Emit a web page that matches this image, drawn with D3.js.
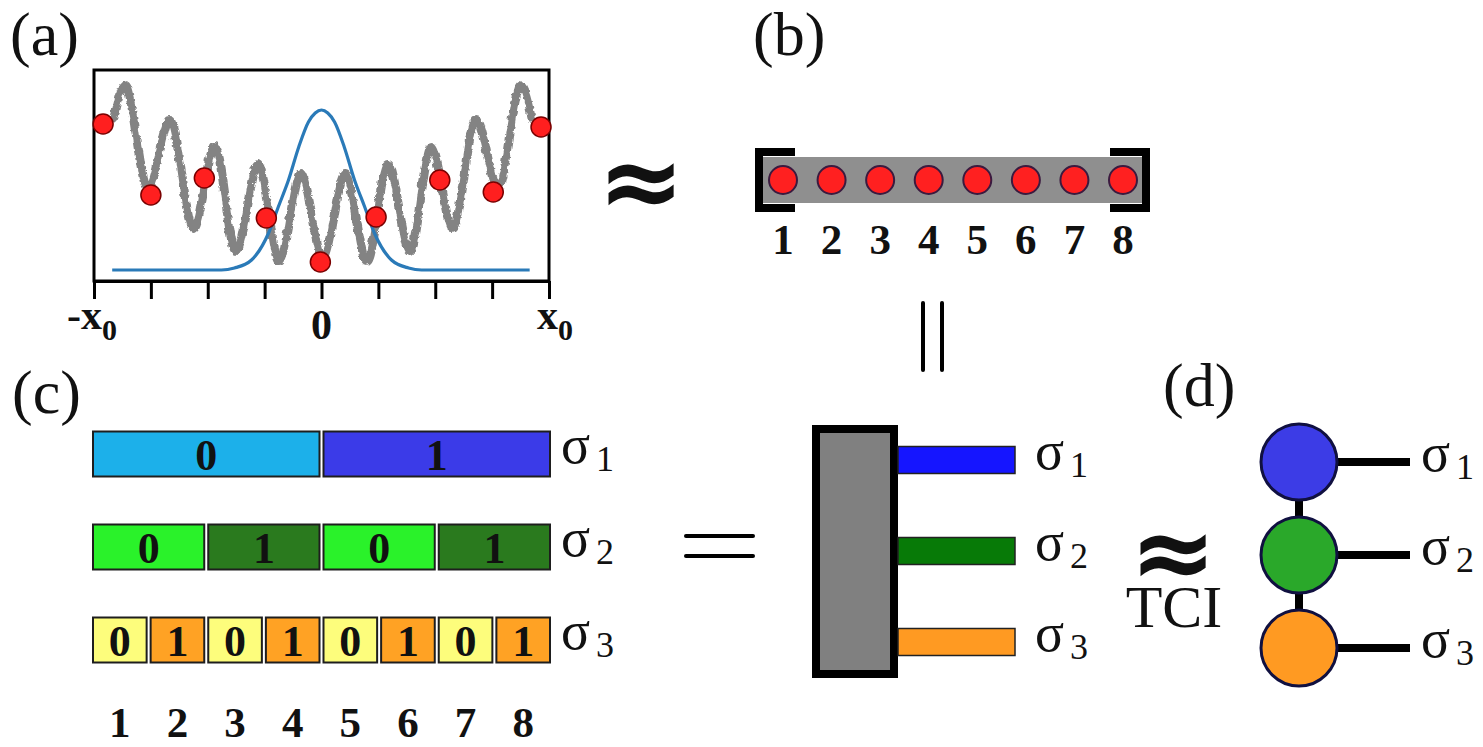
<!DOCTYPE html>
<html><head><meta charset="utf-8">
<script src="https://cdn.jsdelivr.net/npm/d3@7"></script>
<style>body{margin:0;background:#fff} svg{display:block} text{font-family:"Liberation Serif","Times New Roman",serif;fill:#111}</style>
</head><body>
<svg id="c" width="1483" height="747"></svg>
<script>
// ---------- data ----------
const xTicks = [-4,-3,-2,-1,0,1,2,3,4];
const grayX = [-3.69,-3.48,-3.08,-2.69,-2.28,-1.90,-1.53,-1.14,-0.77,-0.39,0,0.39,0.77,1.14,1.53,1.90,2.28,2.69,3.08,3.48,3.69];
const grayY = [161,198,94,163,54,136,31,118,21,109,24,109,21,118,31,136,54,163,94,198,161];
const gaussX = [-3.68,-1.76,-1.53,-1.23,-0.93,-0.76,-0.58,-0.40,-0.23,-0.11,0,0.11,0.23,0.40,0.58,0.76,0.93,1.23,1.53,1.76,3.66];
const gaussY = [11,11,13,21,48,74,101,134,159,168,171,168,159,134,101,74,48,21,13,11,11];
const sampleX = [-3.84,-3.0,-2.06,-0.97,-0.02,0.96,2.08,3.02,3.86];
const sampleY = [157,86,103,63,19,64,101,89,154];
const sites = ["1","2","3","4","5","6","7","8"];
const bits1 = ["0","1"];
const bits2 = ["0","1","0","1"];
const bits3 = ["0","1","0","1","0","1","0","1"];
const legs = ["1","2","3"];
const rowColors = [["#1cb0ea","#3b3be8"],["#2af22a","#2a7a1e"],["#fdfd7c","#ffa224"]];
const legColors = ["#1515ff","#077a07","#ff9a22"];
const nodeColors = ["#3c3ce6","#2aa82a","#ff9a22"];

const svg = d3.select("#c");
const defs = svg.append("defs");
const flt = defs.append("filter").attr("id","rough").attr("x","-5%").attr("y","-10%").attr("width","110%").attr("height","120%");
flt.append("feTurbulence").attr("type","turbulence").attr("baseFrequency","0.14").attr("numOctaves",1).attr("seed",4).attr("result","n");
flt.append("feDisplacementMap").attr("in","SourceGraphic").attr("in2","n").attr("scale",4).attr("xChannelSelector","R").attr("yChannelSelector","G");

// ---------- panel labels ----------
[["(a)",10,55],["(b)",753,55],["(c)",12,413],["(d)",1163,406]].forEach(([t,x,y]) =>
  svg.append("text").attr("x",x).attr("y",y).style("font-size","62px").text(t));

// ---------- panel (a) ----------
const x = d3.scaleLinear().domain([-4,4]).range([94,549]);
const y = d3.scaleLinear().domain([0,211]).range([281,70]);
const gA = svg.append("g");
const line = d3.line().x(d=>x(d[0])).y(d=>y(d[1])).curve(d3.curveMonotoneX);
gA.append("path").attr("d",line(d3.zip(grayX,grayY))).attr("fill","none")
  .attr("stroke","#838383").attr("stroke-width",8).attr("stroke-linejoin","round").attr("filter","url(#rough)");
gA.append("path").attr("d",line(d3.zip(gaussX,gaussY))).attr("fill","none")
  .attr("stroke","#2a7ab8").attr("stroke-width",3.2);
gA.append("rect").attr("x",x(-4)).attr("y",y(211)).attr("width",x(4)-x(-4)).attr("height",y(0)-y(211))
  .attr("fill","none").attr("stroke","#000").attr("stroke-width",3);
const ax = gA.append("g").attr("transform",`translate(0,${y(0)})`)
  .call(d3.axisBottom(x).tickValues(xTicks).tickSize(18).tickSizeOuter(0).tickFormat(""));
ax.select(".domain").attr("stroke","#000").attr("stroke-width",3);
ax.selectAll(".tick line").attr("stroke","#000").attr("stroke-width",3);
gA.selectAll("circle.s").data(d3.zip(sampleX,sampleY)).join("circle")
  .attr("cx",d=>x(d[0])).attr("cy",d=>y(d[1])).attr("r",10)
  .attr("fill","#ff1f1f").attr("stroke","#7a0000").attr("stroke-width",1.5);

// axis labels
const lab = (xx, main, sub) => {
  const t = gA.append("text").attr("x",xx).attr("y",sub?329:339).style("font-size","42px").style("font-weight","bold");
  t.append("tspan").text(main);
  if (sub) t.append("tspan").attr("dy",11).style("font-size","30px").text(sub);
  return t;
};
lab(x(-4)-27,"-x","0");
lab(x(0),"0").attr("text-anchor","middle");
lab(x(4)-12,"x","0");

// ≈ between (a) and (b)
svg.append("text").attr("x",641).attr("y",217).attr("text-anchor","middle")
  .style("font-family","'DejaVu Sans'").style("font-size","104px").style("font-weight","bold").text("≈");

// ---------- panel (b) ----------
const xs = d3.scalePoint().domain(sites).range([783,1123]);
const gB = svg.append("g");
gB.append("rect").attr("x",760).attr("y",157).attr("width",385).attr("height",46).attr("fill","#8f8f8f");
gB.append("path").attr("d","M795,152H759V208H795").attr("fill","none").attr("stroke","#000").attr("stroke-width",8);
gB.append("path").attr("d","M1110,152H1146V208H1110").attr("fill","none").attr("stroke","#000").attr("stroke-width",8);
gB.selectAll("circle").data(sites).join("circle")
  .attr("cx",d=>xs(d)).attr("cy",180).attr("r",14)
  .attr("fill","#ff2020").attr("stroke","#3b1a3f").attr("stroke-width",2);
gB.selectAll("text").data(sites).join("text")
  .attr("x",d=>xs(d)).attr("y",254).attr("text-anchor","middle")
  .style("font-size","43px").style("font-weight","bold").text(d=>d);

// || sign
[923,942].forEach(xx => svg.append("line").attr("x1",xx).attr("x2",xx).attr("y1",303).attr("y2",370)
  .attr("stroke","#000").attr("stroke-width",4).attr("stroke-linecap","round"));

// ---------- panel (c) ----------
const rowY = d3.scalePoint().domain(legs).range([454,640]);
const gC = svg.append("g");
const rowH = 45, X0 = 93, X1 = 550, gap = 4;
const band = n => { const step = (X1-X0+gap)/n; return d3.scaleBand().domain(d3.range(n)).range([X0,X1]).paddingInner(gap/step); };
[bits1,bits2,bits3].forEach((bits,i) => {
  const b = band(bits.length);
  const cy = rowY(legs[i]);
  const g = gC.append("g");
  g.selectAll("rect").data(bits).join("rect")
    .attr("x",(d,j)=>b(j)).attr("y",cy-rowH/2).attr("width",b.bandwidth()).attr("height",rowH)
    .attr("fill",d=>rowColors[i][+d]).attr("stroke","#1e1e1e").attr("stroke-width",2);
  g.selectAll("text").data(bits).join("text")
    .attr("x",(d,j)=>b(j)+b.bandwidth()/2).attr("y",cy+16).attr("text-anchor","middle")
    .style("font-size","44px").style("font-weight","bold").text(d=>d);
});
const b8 = band(8);
gC.selectAll("text.site").data(sites).join("text").attr("class","site")
  .attr("x",(d,j)=>b8(j)+b8.bandwidth()/2).attr("y",737).attr("text-anchor","middle")
  .style("font-size","43px").style("font-weight","bold").text(d=>d);

function sigma(xx, cy, sub) {
  const t = svg.append("text").attr("x",xx).attr("y",cy+9).style("font-size","54px");
  t.append("tspan").text("σ");
  t.append("tspan").attr("dx",6).attr("dy",8).style("font-size","36px").text(sub);
}
legs.forEach(l => sigma(561, rowY(l), l));

// = sign
[536,556].forEach(yy => svg.append("line").attr("x1",686).attr("x2",753).attr("y1",yy).attr("y2",yy)
  .attr("stroke","#000").attr("stroke-width",4).attr("stroke-linecap","round"));

// ---------- middle tensor ----------
const legY = d3.scalePoint().domain(legs).range([460,642]);
const gM = svg.append("g");
gM.append("rect").attr("x",816).attr("y",429).attr("width",78).attr("height",245)
  .attr("fill","#808080").attr("stroke","#000").attr("stroke-width",8);
gM.selectAll("rect.leg").data(legs).join("rect").attr("class","leg")
  .attr("x",898).attr("y",d=>legY(d)-13.5).attr("width",117).attr("height",27)
  .attr("fill",(d,i)=>legColors[i]).attr("stroke","#222").attr("stroke-width",1.5);
legs.forEach(l => sigma(1035, legY(l), l));

// ≈ TCI (one text block)
const tci = svg.append("text").attr("text-anchor","middle");
tci.append("tspan").attr("x",1173).attr("y",588)
  .style("font-family","'DejaVu Sans'").style("font-size","104px").style("font-weight","bold").text("≈");
tci.append("tspan").attr("x",1174).attr("y",627).style("font-size","60px").text("TCI");

// ---------- panel (d) ----------
const nodeY = d3.scalePoint().domain(legs).range([462,648]);
const gD = svg.append("g");
gD.append("line").attr("x1",1299).attr("x2",1299).attr("y1",nodeY("1")).attr("y2",nodeY("3"))
  .attr("stroke","#000").attr("stroke-width",8);
gD.selectAll("line.h").data(legs).join("line").attr("class","h")
  .attr("x1",1299).attr("x2",1410).attr("y1",d=>nodeY(d)).attr("y2",d=>nodeY(d))
  .attr("stroke","#000").attr("stroke-width",8);
gD.selectAll("circle").data(legs).join("circle")
  .attr("cx",1299).attr("cy",d=>nodeY(d)).attr("r",38)
  .attr("fill",(d,i)=>nodeColors[i]).attr("stroke","#101040").attr("stroke-width",3);
legs.forEach(l => sigma(1421, nodeY(l), l));
</script>
</body></html>
